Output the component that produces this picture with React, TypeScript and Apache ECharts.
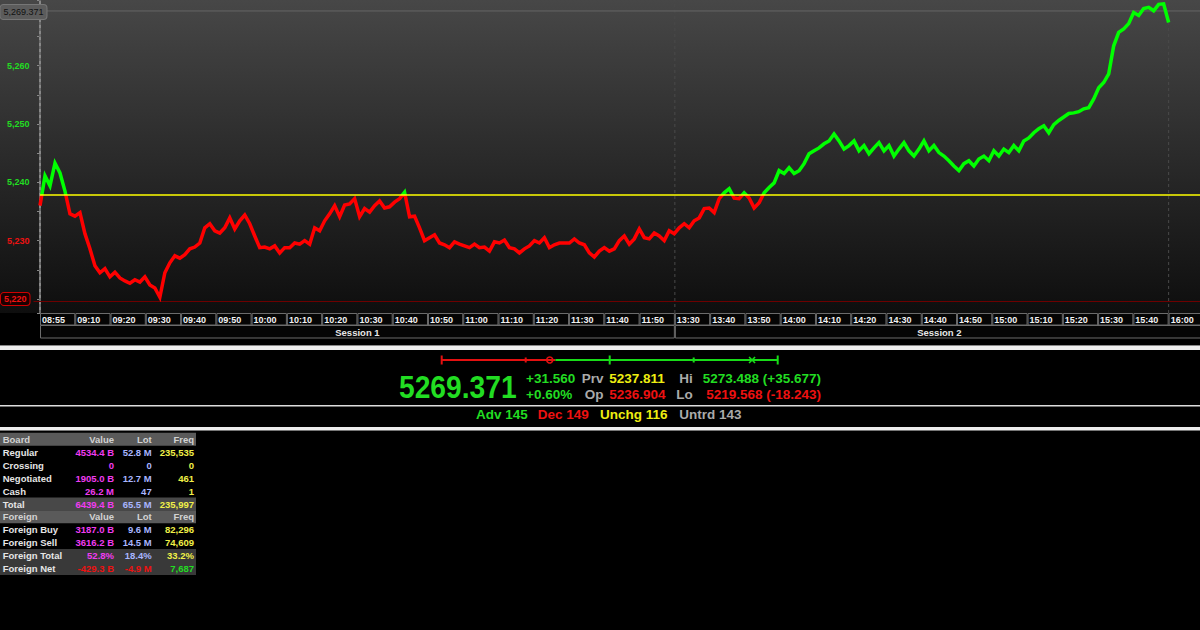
import React, { useEffect, useRef } from "react";
import * as echarts from "echarts";

// ---------- DATA ----------
const TIME_LABELS = [
  "08:55", "09:10", "09:20", "09:30", "09:40", "09:50",
  "10:00", "10:10", "10:20", "10:30", "10:40", "10:50",
  "11:00", "11:10", "11:20", "11:30", "11:40", "11:50",
  "13:30", "13:40", "13:50",
  "14:00", "14:10", "14:20", "14:30", "14:40", "14:50",
  "15:00", "15:10", "15:20", "15:30", "15:40", "16:00",
];
const SESSIONS = ["Session 1", "Session 2"];
const SESSION_STARTS = ["08:55", "13:30"];
const CLOSE_LABEL = "16:00";

const PRICE = [
  5236.0, 5241.1, 5239.4, 5243.3, 5241.6, 5238.5, 5234.6, 5234.2, 5234.8, 5231.2,
  5228.6, 5225.7, 5224.5, 5225.2, 5223.8, 5224.6, 5223.6, 5223.1, 5222.7, 5223.3,
  5222.9, 5223.8, 5222.4, 5221.9, 5220.3, 5224.5, 5226.2, 5227.4, 5227.0, 5227.6,
  5228.6, 5228.9, 5229.6, 5232.2, 5232.9, 5231.7, 5231.3, 5232.2, 5233.9, 5232.0,
  5233.4, 5234.4, 5232.9, 5230.8, 5228.8, 5228.9, 5228.6, 5229.1, 5227.9, 5228.8,
  5228.8, 5229.6, 5229.4, 5230.0, 5229.4, 5232.2, 5231.7, 5233.4, 5234.6, 5236.0,
  5234.1, 5236.1, 5236.3, 5237.2, 5234.1, 5235.5, 5234.9, 5236.0, 5236.8, 5235.6,
  5235.8, 5236.6, 5237.2, 5238.3, 5234.1, 5234.2, 5232.2, 5230.0, 5230.5, 5231.0,
  5229.6, 5229.3, 5228.8, 5229.8, 5229.4, 5229.1, 5228.8, 5229.4, 5228.8, 5228.9,
  5228.2, 5229.8, 5229.6, 5230.1, 5228.8, 5228.6, 5227.9, 5228.6, 5229.1, 5230.0,
  5229.6, 5230.5, 5228.8, 5229.3, 5229.6, 5229.6, 5229.6, 5230.3, 5229.6, 5229.3,
  5227.9, 5227.2, 5228.2, 5228.8, 5228.2, 5228.6, 5230.0, 5230.8, 5229.4, 5230.3,
  5232.0, 5230.5, 5230.3, 5231.3, 5230.8, 5230.0, 5231.7, 5231.2, 5232.2, 5232.9,
  5232.2, 5233.4, 5233.9, 5235.5, 5235.6, 5234.8, 5237.2, 5238.2, 5238.9, 5237.3,
  5237.2, 5238.2, 5237.3, 5235.6, 5236.5, 5238.2, 5239.1, 5239.9, 5242.0, 5241.5,
  5242.5, 5241.5, 5242.0, 5243.2, 5244.9, 5245.4, 5245.9, 5246.6, 5247.1, 5248.3,
  5247.1, 5245.7, 5246.3, 5247.1, 5245.4, 5246.3, 5244.9, 5245.9, 5246.8, 5245.4,
  5246.3, 5244.5, 5245.7, 5246.8, 5245.4, 5244.5, 5245.7, 5247.1, 5245.4, 5246.3,
  5245.1, 5244.5, 5243.7, 5242.8, 5242.0, 5243.2, 5243.7, 5242.8, 5244.0, 5244.5,
  5243.7, 5245.4, 5244.5, 5245.7, 5245.1, 5246.3, 5245.4, 5247.1, 5247.6, 5248.5,
  5249.2, 5249.7, 5248.5, 5249.9, 5250.6, 5251.2, 5251.8, 5251.9, 5252.1, 5252.6,
  5252.8, 5254.3, 5256.2, 5257.1, 5258.6, 5263.4, 5265.7, 5266.3, 5267.2, 5269.1,
  5268.6, 5269.8, 5270.0, 5269.4, 5270.5, 5270.6, 5267.4,
];

const LAST = 5269.371;
const PREV = 5237.811;
const OPEN = 5236.904;
const HIGH = 5273.488;
const LOW = 5219.568;
const Y_MIN = 5217.6;
const Y_MAX = 5271.25;

const BREADTH_LABELS = ["Adv", "Dec", "Unchg", "Untrd"];
const BREADTH_COUNTS = [145, 149, 116, 143];

const BOARD_HEADER = ["Board", "Value", "Lot", "Freq"];
const BOARD_ROWS = ["Regular", "Crossing", "Negotiated", "Cash"];
const BOARD_VALUE = ["4534.4 B", "0", "1905.0 B", "26.2 M"];
const BOARD_LOT = ["52.8 M", "0", "12.7 M", "47"];
const BOARD_FREQ = ["235,535", "0", "461", "1"];
const BOARD_TOTAL = ["Total", "6439.4 B", "65.5 M", "235,997"];
const FOREIGN_HEADER = ["Foreign", "Value", "Lot", "Freq"];
const FOREIGN_ROWS = ["Foreign Buy", "Foreign Sell", "Foreign Total", "Foreign Net"];
const FOREIGN_VALUE = ["3187.0 B", "3616.2 B", "52.8%", "-429.3 B"];
const FOREIGN_LOT = ["9.6 M", "14.5 M", "18.4%", "-4.9 M"];
const FOREIGN_FREQ = ["82,296", "74,609", "33.2%", "7,687"];

// ---------- STYLE / LAYOUT ----------
const FONT = "'Liberation Sans', Arial, Helvetica, sans-serif";
const GREEN = "#22dd22";
const RED = "#ee1111";
const YELLOW = "#eeee11";
const GRAY = "#aaaaaa";
const LINE_GREEN = "#00ff00";
const LINE_RED = "#ff0000";
const MAGENTA = "#f03cf0";
const BLUE = "#a8b6ff";
const TYELLOW = "#f0f048";
const SLOT_PX = 35.27; // width of one 10-minute cell
const PLOT_LEFT = 40; // where 08:55 sits
const AXIS_LEFT = 33.5; // y axis line
const CHART_W = 1200;

const fmtThousands = (v: number, d: number) =>
  v.toLocaleString("en-US", { minimumFractionDigits: d, maximumFractionDigits: d });
const sgn = (v: number) => (v >= 0 ? "+" : "");

function refLine(data: any[], color: string, width: number, type: any, z: number, extra: any = {}) {
  return {
    type: "line",
    xAxisIndex: 0,
    yAxisIndex: 0,
    data,
    silent: true,
    symbol: "none",
    showSymbol: false,
    z,
    lineStyle: { color, width, type },
    ...extra,
  };
}

function buildOption() {
  const nSlots = TIME_LABELS.length;
  const closeSlot = TIME_LABELS.indexOf(CLOSE_LABEL);
  const sessStart = SESSION_STARTS.map((s) => TIME_LABELS.indexOf(s));
  const sessEnd = sessStart.map((s, i) => (i + 1 < sessStart.length ? sessStart[i + 1] : nSlots));
  const step = closeSlot / (PRICE.length - 1);
  const priceData = PRICE.map((v, i) => [i * step, v]);

  // visible slot range in the main plot and in the label strip
  const xMinMain = -(PLOT_LEFT - AXIS_LEFT) / SLOT_PX;
  const xMaxAll = (CHART_W - PLOT_LEFT) / SLOT_PX;

  // colour split at the previous close, as a gradient over the data extent
  const pMax = Math.max(...PRICE);
  const pMin = Math.min(...PRICE);
  const split = (pMax - PREV) / (pMax - pMin);
  const lineGradient = new echarts.graphic.LinearGradient(0, 0, 0, 1, [
    { offset: 0, color: LINE_GREEN },
    { offset: split, color: LINE_GREEN },
    { offset: split, color: LINE_RED },
    { offset: 1, color: LINE_RED },
  ]);

  const cellData = TIME_LABELS.map((_, k) => [k, k + 1, 0]);
  const sessionData = SESSIONS.map((_, k) => [sessStart[k], sessEnd[k], 1]);

  const DASH = [3, 3];

  // ---- graphic: background, separators, info panel, table
  const graphics: any[] = [];
  graphics.push({
    type: "rect", silent: true, z: -100,
    shape: { x: 0, y: 0, width: CHART_W, height: 313 },
    style: {
      fill: new echarts.graphic.LinearGradient(0, 0, 0, 1, [
        { offset: 0, color: "#474747" },
        { offset: 1, color: "#0e0e0e" },
      ]),
    },
  });
  graphics.push({ type: "rect", silent: true, shape: { x: 0, y: 345, width: CHART_W, height: 1 }, style: { fill: "#888" } });
  graphics.push({ type: "rect", silent: true, shape: { x: 0, y: 346, width: CHART_W, height: 4 }, style: { fill: "#eeeeee" } });
  graphics.push({ type: "rect", silent: true, shape: { x: 0, y: 405, width: CHART_W, height: 1.5 }, style: { fill: "#dddddd" } });
  graphics.push({ type: "rect", silent: true, shape: { x: 0, y: 427, width: CHART_W, height: 3.5 }, style: { fill: "#eeeeee" } });

  const txt = (text: string, x: number, y: number, fill: string, size: number, align = "left", extra: any = {}) => ({
    type: "text",
    silent: true,
    x,
    y,
    ...extra,
    style: {
      x: 0, y: 0, text, fill,
      font: `bold ${size}px ${FONT}`,
      align, textAlign: align,
      verticalAlign: "middle", textVerticalAlign: "middle",
    },
  });

  const change = LAST - PREV;
  const changePct = (change / PREV) * 100;
  const up = (v: number) => (v >= PREV ? GREEN : RED);

  graphics.push(txt(LAST.toFixed(3), 399, 387, up(LAST), 31, "left", { scaleX: 0.91 }));
  const R1 = 378.8, R2 = 394.2;
  graphics.push(txt(sgn(change) + change.toFixed(3), 526, R1, change >= 0 ? GREEN : RED, 13.5));
  graphics.push(txt(sgn(change) + changePct.toFixed(2) + "%", 526, R2, change >= 0 ? GREEN : RED, 13.5));
  graphics.push(txt("Prv", 603.5, R1, GRAY, 13.5, "right"));
  graphics.push(txt("Op", 603.5, R2, GRAY, 13.5, "right"));
  graphics.push(txt(PREV.toFixed(3), 609.3, R1, YELLOW, 13.5));
  graphics.push(txt(OPEN.toFixed(3), 609.3, R2, up(OPEN), 13.5));
  graphics.push(txt("Hi", 692.8, R1, GRAY, 13.5, "right"));
  graphics.push(txt("Lo", 692.8, R2, GRAY, 13.5, "right"));
  graphics.push(txt(`${HIGH.toFixed(3)} (${sgn(HIGH - PREV)}${(HIGH - PREV).toFixed(3)})`, 821, R1, up(HIGH), 13.5, "right"));
  graphics.push(txt(`${LOW.toFixed(3)} (${sgn(LOW - PREV)}${(LOW - PREV).toFixed(3)})`, 821, R2, up(LOW), 13.5, "right"));

  const breadthX = [476, 537.7, 600, 679.3];
  const breadthColor = [GREEN, RED, YELLOW, GRAY];
  BREADTH_LABELS.forEach((l, i) => {
    graphics.push(txt(`${l} ${BREADTH_COUNTS[i]}`, breadthX[i], 414.5, breadthColor[i], 13.5));
  });

  // table
  type Row = { cells: string[]; kind: "head" | "body" | "total" | "sum"; net?: boolean };
  const rows: Row[] = [];
  rows.push({ cells: BOARD_HEADER, kind: "head" });
  BOARD_ROWS.forEach((l, i) => rows.push({ cells: [l, BOARD_VALUE[i], BOARD_LOT[i], BOARD_FREQ[i]], kind: "body" }));
  rows.push({ cells: BOARD_TOTAL, kind: "total" });
  rows.push({ cells: FOREIGN_HEADER, kind: "head" });
  FOREIGN_ROWS.forEach((l, i) =>
    rows.push({
      cells: [l, FOREIGN_VALUE[i], FOREIGN_LOT[i], FOREIGN_FREQ[i]],
      kind: i >= 2 ? "sum" : "body",
      net: i === 3,
    })
  );
  const bg: Record<string, string | null> = { head: "#5a5a5a", body: null, total: "#484848", sum: "#393939" };
  const colX = [2.7, 114, 151.7, 194];
  const colAlign = ["left", "right", "right", "right"];
  const colColor = ["#e6e6e6", MAGENTA, BLUE, TYELLOW];
  const ROW_TOP = 432.8, ROW_H = 12.92;
  rows.forEach((r, i) => {
    const top = ROW_TOP + ROW_H * i;
    const b = bg[r.kind];
    if (b) graphics.push({ type: "rect", silent: true, shape: { x: 0, y: top, width: 196, height: ROW_H }, style: { fill: b } });
    r.cells.forEach((c, j) => {
      let color = r.kind === "head" ? "#d2d2d2" : colColor[j];
      if (r.net && j > 0) color = c.startsWith("-") ? RED : GREEN;
      graphics.push(txt(c, colX[j], top + 6.6, color, 9.5, colAlign[j]));
    });
  });

  const yLabelRich = {
    up: { color: GREEN, fontWeight: "bold", fontSize: 9, fontFamily: FONT },
    dn: { color: RED, fontWeight: "bold", fontSize: 9, fontFamily: FONT },
    lo: {
      color: RED, fontWeight: "bold", fontSize: 9, fontFamily: FONT,
      borderColor: "#d00000", borderWidth: 1, borderRadius: 3,
      padding: [2, 3, 1, 3], backgroundColor: "#1c0000",
    },
  };

  const series: any[] = [
    // vertical dashed guides: open, session 2, close
    refLine([[0, Y_MIN], [0, Y_MAX]], "#4a4a4a", 1, DASH, 1),
    refLine([[sessStart[1], Y_MIN], [sessStart[1], Y_MAX]], "#4a4a4a", 1, DASH, 1),
    refLine([[closeSlot, Y_MIN], [closeSlot, Y_MAX]], "#4a4a4a", 1, DASH, 1),
    // low
    refLine([[xMinMain, LOW], [xMaxAll, LOW]], "#6e0000", 1.2, "solid", 1),
    // last price with its tag
    refLine(
      [
        {
          value: [0, LAST],
          symbol: "rect",
          symbolSize: 1,
          itemStyle: { color: "rgba(0,0,0,0)" },
          label: {
            show: true,
            position: "left",
            distance: -7,
            offset: [0, 1],
            formatter: () => fmtThousands(LAST, 3),
            color: "#111",
            fontSize: 9,
            fontFamily: FONT,
            backgroundColor: "#5c5c5c",
            borderColor: "#767676",
            borderWidth: 1,
            borderRadius: 3,
            padding: [3, 3, 2, 3],
          },
        },
        [xMaxAll, LAST],
      ],
      "#666",
      1,
      "solid",
      1,
      { showSymbol: true, symbol: "none" }
    ),
    // price
    {
      type: "line",
      xAxisIndex: 0,
      yAxisIndex: 0,
      data: priceData,
      showSymbol: false,
      symbol: "none",
      silent: true,
      z: 4,
      lineStyle: { width: 3.5, color: lineGradient, join: "miter" },
    },
    // previous close
    refLine([[0, PREV], [xMaxAll, PREV]], "#ffff00", 1.5, "solid", 5),
    {
      type: "custom",
      xAxisIndex: 1,
      yAxisIndex: 1,
      silent: true,
      clip: false,
      data: cellData,
      renderItem: (params: any, api: any) => {
        const row = api.value(2);
        const p0 = api.coord([api.value(0), row]);
        const p1 = api.coord([api.value(1), row + 1]);
        return {
          type: "group",
          children: [
            {
              type: "rect",
              shape: { x: p0[0] + 0.5, y: p0[1] + 0.5, width: p1[0] - p0[0] - 1, height: p1[1] - p0[1] - 1 },
              style: { fill: "#050505", stroke: "#6c6c6c", lineWidth: 1 },
            },
            {
              type: "text",
              style: {
                x: p0[0] + 2, y: (p0[1] + p1[1]) / 2 + 0.5,
                text: TIME_LABELS[params.dataIndex],
                fill: "#f2f2f2",
                font: `bold 9px ${FONT}`,
                align: "left", textAlign: "left",
                verticalAlign: "middle", textVerticalAlign: "middle",
              },
            },
          ],
        };
      },
    },
    {
      type: "custom",
      xAxisIndex: 1,
      yAxisIndex: 1,
      silent: true,
      clip: false,
      data: sessionData,
      renderItem: (params: any, api: any) => {
        const row = api.value(2);
        const p0 = api.coord([api.value(0), row]);
        const p1 = api.coord([api.value(1), row + 1]);
        return {
          type: "group",
          children: [
            {
              type: "rect",
              shape: { x: p0[0] + 0.5, y: p0[1], width: p1[0] - p0[0] - 1, height: p1[1] - p0[1] },
              style: { fill: "#050505", stroke: "#6c6c6c", lineWidth: 1 },
            },
            {
              type: "text",
              style: {
                x: (p0[0] + p1[0]) / 2, y: (p0[1] + p1[1]) / 2 + 0.5,
                text: SESSIONS[params.dataIndex],
                fill: "#e8e8e8",
                font: `bold 9.5px ${FONT}`,
                align: "center", textAlign: "center",
                verticalAlign: "middle", textVerticalAlign: "middle",
              },
            },
          ],
        };
      },
    },
    {
      type: "custom",
      xAxisIndex: 2,
      yAxisIndex: 2,
      silent: true,
      clip: false,
      data: [[LOW, PREV, OPEN, HIGH, LAST]],
      renderItem: (params: any, api: any) => {
        const lo = api.value(0), prev = api.value(1), open = api.value(2), hi = api.value(3), last = api.value(4);
        const cx = (v: number) => api.coord([v, 0])[0];
        const y = api.coord([lo, 0])[1];
        const col = (v: number) => (v >= prev ? "#18dc18" : "#e41010");
        const children: any[] = [
          { type: "line", shape: { x1: cx(lo), y1: y, x2: cx(prev), y2: y }, style: { stroke: col(lo), lineWidth: 2 } },
          { type: "line", shape: { x1: cx(prev), y1: y, x2: cx(hi), y2: y }, style: { stroke: col(hi), lineWidth: 2 } },
        ];
        for (let q = 0; q <= 4; q++) {
          const v = lo + ((hi - lo) * q) / 4;
          const h = q % 2 === 0 ? 4.5 : 2.5;
          children.push({ type: "line", shape: { x1: cx(v), y1: y - h, x2: cx(v), y2: y + h }, style: { stroke: col(v), lineWidth: 2 } });
        }
        children.push({ type: "circle", shape: { cx: cx(open), cy: y, r: 3 }, style: { stroke: col(open), fill: "none", lineWidth: 1.6 } });
        const lx = cx(last);
        children.push({ type: "line", shape: { x1: lx - 3, y1: y - 3, x2: lx + 3, y2: y + 3 }, style: { stroke: col(last), lineWidth: 1.6 } });
        children.push({ type: "line", shape: { x1: lx - 3, y1: y + 3, x2: lx + 3, y2: y - 3 }, style: { stroke: col(last), lineWidth: 1.6 } });
        return { type: "group", children };
      },
    },
  ];

  return {
    animation: false,
    backgroundColor: "#000",
    graphic: { elements: graphics },
    grid: [
      { left: AXIS_LEFT, right: 0, top: 0, height: 313, containLabel: false, outerBoundsMode: "none" },
      { left: PLOT_LEFT, right: 0, top: 313, height: 25, containLabel: false, outerBoundsMode: "none" },
      { left: 441.7, width: 336, top: 352, height: 16, containLabel: false, outerBoundsMode: "none" },
    ],
    xAxis: [
      { type: "value", gridIndex: 0, min: xMinMain, max: xMaxAll, show: false },
      { type: "value", gridIndex: 1, min: 0, max: xMaxAll, show: false },
      { type: "value", gridIndex: 2, min: LOW, max: HIGH, show: false },
    ],
    yAxis: [
      {
        type: "value",
        gridIndex: 0,
        min: Y_MIN,
        max: Y_MAX,
        splitLine: { show: false },
        axisLine: { show: true, lineStyle: { color: "#888", width: 2 } },
        axisTick: { show: true, length: 3, lineStyle: { color: "#888" } },
        minorTick: { show: true, splitNumber: 2, length: 3, lineStyle: { color: "#888" } },
        axisLabel: {
          margin: 4,
          rich: yLabelRich,
          formatter: (v: number) => {
            const r = Math.round(v / 10) * 10;
            if (Math.abs(v - r) > 1e-6) return "";
            const s = fmtThousands(r, 0);
            if (Math.abs(r - LOW) < 5) return `{lo|${s}}`;
            return r >= PREV ? `{up|${s}}` : `{dn|${s}}`;
          },
        },
      },
      { type: "value", gridIndex: 1, min: 0, max: 2, inverse: true, show: false },
      { type: "value", gridIndex: 2, min: -1, max: 1, show: false },
    ],
    series,
  };
}

export default function App() {
  const ref = useRef<HTMLDivElement>(null);
  useEffect(() => {
    if (!ref.current) return;
    const chart = echarts.init(ref.current, null, { renderer: "svg", width: 1200, height: 630 });
    chart.setOption(buildOption() as any);
    return () => chart.dispose();
  }, []);
  return (
    <div
      ref={ref}
      style={{ position: "fixed", left: 0, top: 0, width: 1200, height: 630, background: "#000" }}
    />
  );
}
